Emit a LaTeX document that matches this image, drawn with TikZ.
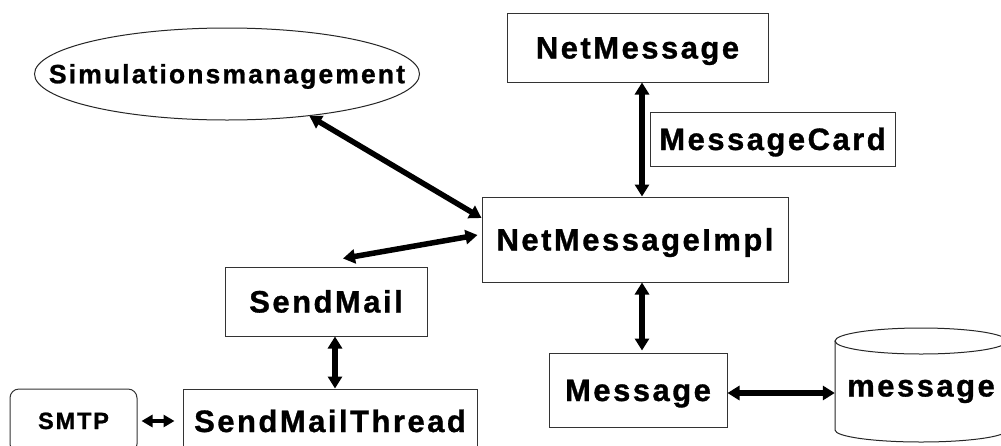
\documentclass[tikz,border=0pt]{standalone}
\usepackage{fontspec}
\setmainfont{Liberation Sans}[LetterSpace=8, BoldFeatures={FakeBold=1}]
\usetikzlibrary{arrows.meta,shapes.geometric}
\tikzset{
  box/.style={draw=black!80, line width=1pt, rectangle, inner sep=0pt, text height=22pt, text depth=0pt, font=\bfseries\fontsize{31}{36}\selectfont},
  oval/.style={draw=black!85, line width=1pt, ellipse, inner sep=0pt},
  ovaltext/.style={inner sep=0pt, text height=18.5pt, text depth=0pt, font=\bfseries\fontsize{26.5}{30}\selectfont},
  conn/.style={line width=5.5pt, {Triangle[length=12pt,width=14pt]}-{Triangle[length=12pt,width=14pt]}},
  smallconn/.style={line width=4pt, {Triangle[length=11pt,width=12pt]}-{Triangle[length=11pt,width=12pt]}}
}
\begin{document}
\begin{tikzpicture}[x=1pt,y=-1pt]
\useasboundingbox (0,0) rectangle (1001,445);
\clip (0,0) rectangle (1001,445);
\fill[white] (0,0) rectangle (1001,445);

\node[oval, minimum width=385pt, minimum height=92pt] (sim) at (227,74) {};
\node[ovaltext] (simtxt) at (sim.center) {Simulationsmanagement};
\node[box, minimum width=261pt, minimum height=69pt] (netmsg) at (637.5,47.5) {NetMessage};
\node[box, minimum width=245pt, minimum height=54pt] (card) at (772.5,139) {MessageCard};
\node[box, minimum width=306pt, minimum height=85pt] (impl) at (635,239.5) {NetMessageImpl};
\node[box, minimum width=202pt, minimum height=69pt] (sendmail) at (326,301.5) {SendMail};
\node[box, minimum width=294pt, minimum height=64pt] (thread) at (330,421) {SendMailThread};
\node[box, rounded corners=9pt, minimum width=127pt, minimum height=64pt, text height=16pt, font=\bfseries\fontsize{23.5}{26}\selectfont] (smtp) at (73.5,421) {SMTP};
\node[box, minimum width=178pt, minimum height=74pt] (msg) at (638,390) {Message};

% database cylinder
\draw[black!85, line width=1pt, fill=white] (835,341) -- (835,430) arc[start angle=180, end angle=360, x radius=86pt, y radius=12pt] -- (1007,341);
\draw[black!85, line width=1pt] (921,341) ellipse[x radius=86pt, y radius=13pt];
\node[draw=none, rectangle, inner sep=0pt, minimum width=172pt, minimum height=89pt, text height=17pt, text depth=0pt, font=\bfseries\fontsize{31}{36}\selectfont] (db) at (921,388) {message};

% connectors
\draw[conn] (sim.-27) -- ([yshift=21.5pt]impl.west);
\draw[conn] ([yshift=4.5pt, xshift=-4pt]impl.west) -- ([xshift=17pt, yshift=8pt]sendmail.north);
\draw[conn] ([xshift=4.5pt]netmsg.south) -- ([xshift=4.5pt]netmsg.south |- impl.north);
\draw[conn] ([xshift=7pt]impl.south) -- ([xshift=7pt, yshift=2pt]impl.south |- msg.north);
\draw[conn] (msg.east) ++(0,-3pt) coordinate (me) (me) -- (me -| db.west);
\draw[conn] ([xshift=9pt]sendmail.south) -- ([xshift=9pt]sendmail.south |- thread.north);
\draw[smallconn] ([xshift=4pt]smtp.east) -- ([xshift=-8pt]thread.west);
\end{tikzpicture}
\end{document}
